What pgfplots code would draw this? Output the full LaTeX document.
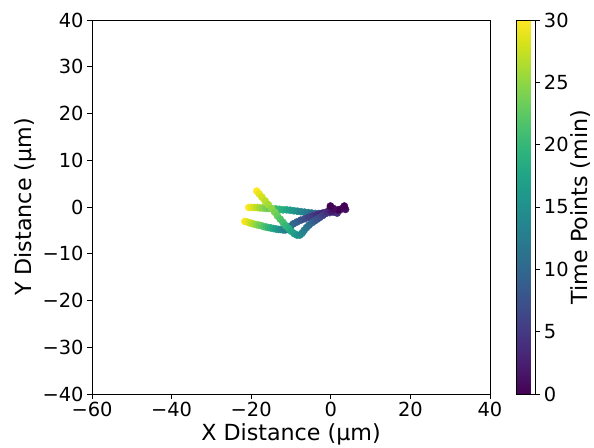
\documentclass[border=0pt]{standalone}
\usepackage{pgfplots}
\usepackage{pgfplotstable}
\pgfplotsset{compat=1.18}
\usepackage{fontspec}
\setmainfont{DejaVu Sans}

\pgfplotstableread{
t x y
30 -18.6 3.4
29 -18.0 2.8
28 -17.3 2.1
27 -16.5 1.3
26 -15.7 0.5
25 -14.9 -0.3
24 -14.1 -1.1
23 -13.4 -1.9
22 -12.7 -2.6
21 -12.0 -3.3
20 -11.3 -4.0
19 -10.6 -4.6
18 -9.9 -5.2
17 -9.2 -5.7
16 -8.5 -6.0
15 -7.8 -6.0
14 -7.2 -5.6
13 -6.7 -5.0
12 -6.1 -4.4
11 -5.5 -3.9
10 -4.8 -3.4
9 -4.1 -3.0
8 -3.4 -2.6
7 -2.7 -2.2
6 -2.0 -1.8
5 -1.4 -1.4
4 -0.8 -1.0
3 -0.3 -0.6
2 0.3 -0.9
1 0.6 -0.3
0 -0.1 0.2
}\trackA

\pgfplotstableread{
t x y
30 -20.6 -0.1
29 -19.9 -0.1
28 -19.2 -0.1
27 -18.5 -0.1
26 -17.8 -0.2
25 -17.1 -0.2
24 -16.3 -0.3
23 -15.5 -0.3
22 -14.7 -0.4
21 -13.8 -0.4
20 -12.9 -0.5
19 -12.0 -0.6
18 -11.1 -0.6
17 -10.2 -0.7
16 -9.3 -0.8
15 -8.4 -0.9
14 -7.5 -1.0
13 -6.6 -1.1
12 -5.7 -1.2
11 -4.8 -1.3
10 -3.9 -1.4
9 -3.0 -1.4
8 -2.1 -1.3
7 -1.2 -1.3
6 -0.3 -1.2
5 0.7 -1.1
4 1.6 -1.3
3 2.2 -0.7
2 2.9 -0.3
1 3.7 -0.5
0 3.4 0.2
}\trackB

\pgfplotstableread{
t x y
30 -21.6 -3.1
29 -21.0 -3.2
28 -20.4 -3.4
27 -19.8 -3.5
26 -19.2 -3.7
25 -18.6 -3.8
24 -18.0 -3.9
23 -17.4 -4.0
22 -16.8 -4.2
21 -16.2 -4.3
20 -15.6 -4.4
19 -15.0 -4.5
18 -14.4 -4.6
17 -13.8 -4.7
16 -13.2 -4.8
15 -12.6 -4.8
14 -12.0 -4.9
13 -11.4 -4.9
12 -10.8 -4.6
11 -10.1 -4.1
10 -9.4 -3.6
9 -8.5 -3.2
8 -7.5 -2.8
7 -6.5 -2.5
6 -5.5 -2.2
5 -4.5 -1.9
4 -3.5 -1.7
3 -2.5 -1.5
2 -1.4 -1.2
1 0.0 -0.9
0 1.8 -0.6
}\trackC

\begin{document}
\begin{tikzpicture}
\begin{axis}[
  name=main,
  width=398pt, height=374pt, scale only axis,
  xmin=-60, xmax=40, ymin=-40, ymax=40,
  xtick={-60,-40,-20,0,20,40},
  xticklabels={−60,−40,−20,0,20,40},
  ytick={-40,-30,-20,-10,0,10,20,30,40},
  yticklabels={−40,−30,−20,−10,0,10,20,30,40},
  tick align=outside, tick pos=left,
  major tick length=4.9pt,
  every tick/.style={black, line width=0.8pt},
  axis line style={line width=0.8pt},
  ticklabel style={font=\fontsize{19.4}{23}\selectfont},
  label style={font=\fontsize{22.2}{26}\selectfont},
  xlabel={X Distance (μm)},
  ylabel={Y Distance (μm)},
  colormap/viridis,
  point meta min=0, point meta max=30,
  colorbar,
  colorbar style={
    at={(parent axis.north east)}, anchor=north west, xshift=18pt,
    width=19pt,
    ytick={0,5,10,15,20,25,30},
    yticklabels={0,5,10,15,20,25,30},
    yticklabel pos=right,
    ytick pos=right,
    tick align=outside,
    major tick length=4.9pt,
    every tick/.style={black, line width=0.8pt},
    axis line style={line width=0.8pt},
    ticklabel style={font=\fontsize{19.4}{23}\selectfont},
    ylabel={Time Points (min)},
    ylabel shift=-5pt,
    ylabel style={font=\fontsize{22.2}{26}\selectfont},
  },
]
\addplot[scatter, only marks, mark=*, mark size=3.6pt, point meta=explicit,
  scatter/use mapped color={draw=mapped color, fill=mapped color}]
  table[x=x, y=y, meta=t] {\trackB};
\addplot[scatter, only marks, mark=*, mark size=3.6pt, point meta=explicit,
  scatter/use mapped color={draw=mapped color, fill=mapped color}]
  table[x=x, y=y, meta=t] {\trackC};
\addplot[scatter, only marks, mark=*, mark size=3.6pt, point meta=explicit,
  scatter/use mapped color={draw=mapped color, fill=mapped color}]
  table[x=x, y=y, meta=t] {\trackA};
\end{axis}
\pgfresetboundingbox
\path ([shift={(-92pt,-53pt)}]main.south west) rectangle ([shift={(104pt,20pt)}]main.north east);
\end{tikzpicture}
\end{document}
